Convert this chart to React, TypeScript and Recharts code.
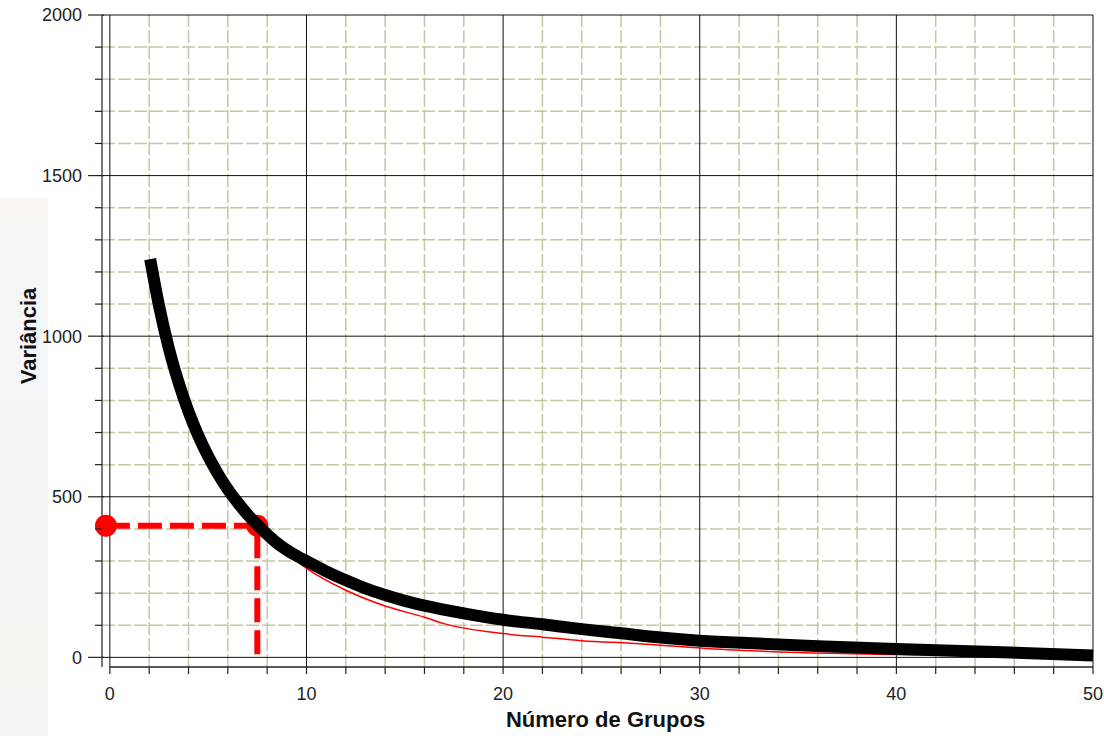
import React from "react";
import { ComposedChart, Line, XAxis, YAxis, ReferenceLine } from "recharts";

// curva de variância (leitura do gráfico)
const curveX = [2.05, 2.5, 3, 3.5, 4, 4.5, 5, 5.5, 6, 6.5, 7, 7.5, 8, 8.5, 9, 9.5, 10, 11, 12, 13, 14, 15, 16, 18, 20, 22, 24, 26, 28, 30, 33, 36, 40, 45, 50];
const curveY = [1240, 1095, 962, 855, 765, 690, 626, 571, 523, 482, 445, 413, 383, 356, 334, 316, 300, 268, 240, 215, 194, 176, 161, 137, 117, 103, 88, 75, 62, 52, 43, 35, 26, 17, 6];

// linha vermelha fina (dados originais)
const redX = [7.5, 10, 12, 14, 16, 17, 20, 22, 24, 26.5, 32, 35, 40, 45, 50];
const redY = [413, 277, 209, 160, 125, 105, 74, 63, 52, 44, 22, 15, 9, 5, 0];

// linha guia tracejada
const guideX = [-0.2, 7.5, 7.5];
const guideY = [410, 410, -8];

const xTicks = [0, 2, 4, 6, 8, 10, 12, 14, 16, 18, 20, 22, 24, 26, 28, 30, 32, 34, 36, 38, 40, 42, 44, 46, 48, 50];
const xLabels = [0, 10, 20, 30, 40, 50];
const yTicks = [0, 100, 200, 300, 400, 500, 600, 700, 800, 900, 1000, 1100, 1200, 1300, 1400, 1500, 1600, 1700, 1800, 1900, 2000];
const yLabels = [0, 500, 1000, 1500, 2000];

const toPoints = (xs: number[], ys: number[]) => xs.map((x, i) => ({ x, y: ys[i] }));
const curveData = toPoints(curveX, curveY);
const redData = toPoints(redX, redY);
const guideData = toPoints(guideX, guideY);

const FONT = "'Liberation Sans', Arial, sans-serif";
const GRID_MINOR = "#c6c6a4";

const renderXTick = (props: any) => {
  const { x, y, payload } = props;
  if (!xLabels.includes(payload.value)) return <g />;
  return (
    <text x={x} y={y} dy="0.71em" textAnchor="middle" fontSize={18} fill="#222" fontFamily={FONT}>
      {payload.value}
    </text>
  );
};

const renderYTick = (props: any) => {
  const { x, y, payload } = props;
  const ax = x + 20; // posição da linha do eixo
  const major = yLabels.includes(payload.value);
  return (
    <g>
      <line x1={major ? ax - 14 : ax - 7} x2={major ? ax + 2 : ax} y1={y} y2={y} stroke="#222" strokeWidth={1.2} />
      {major && (
        <text x={x} y={y} dy="0.36em" textAnchor="end" fontSize={18} fill="#222" fontFamily={FONT}>
          {payload.value}
        </text>
      )}
    </g>
  );
};

const guideDot = (props: any) => {
  const { cx, cy, index } = props;
  if (index > 1) return <g key={`d${index}`} />;
  return <circle key={`d${index}`} cx={cx} cy={cy} r={11} fill="#ff0000" />;
};

export default function App() {
  return (
    <div style={{ position: "absolute", left: 0, top: 0, width: 1104, height: 736, background: "#fff", overflow: "hidden" }}>
      <div
        style={{
          position: "absolute",
          left: 0,
          top: 198,
          width: 48,
          height: 538,
          background: "linear-gradient(180deg, #f9f5f1 0%, #f3f6f8 30%, #f2f5f6 60%, #f7f4ee 85%, #f4f5f3 100%)",
        }}
      />
      <ComposedChart width={1104} height={736} margin={{ top: 15, right: 11, bottom: 0, left: 0 }} style={{ position: "absolute", left: 0, top: 0 }}>
        <XAxis
          dataKey="x"
          type="number"
          domain={[-0.4, 50]}
          ticks={xTicks}
          interval={0}
          height={69}
          axisLine={false}
          tickSize={7}
          tickMargin={13}
          tickLine={{ stroke: "#222", strokeWidth: 1.2 }}
          tick={renderXTick}
          label={{
            content: (p: any) => {
              const vb = p.viewBox;
              return (
                <text x={vb.x + vb.width / 2 + 8} y={vb.y + vb.height - 9} textAnchor="middle" fontSize={22} fontWeight="bold" fill="#111" fontFamily={FONT}>
                  Número de Grupos
                </text>
              );
            },
          }}
        />
        <YAxis
          dataKey="y"
          type="number"
          domain={[-30, 2000]}
          ticks={yTicks}
          interval={0}
          width={102}
          tickSize={14}
          tickMargin={6}
          tickLine={false}
          axisLine={{ stroke: "#222", strokeWidth: 1.2 }}
          tick={renderYTick}
          label={{
            content: (p: any) => {
              const vb = p.viewBox;
              const cy = vb.y + vb.height / 2 - 5;
              return (
                <text x={28} y={cy} transform={`rotate(-90, 28, ${cy})`} dy="0.36em" textAnchor="middle" fontSize={22} fontWeight="bold" fill="#111" fontFamily={FONT}>
                  Variância
                </text>
              );
            },
          }}
        />

        {xTicks.filter((v) => !xLabels.includes(v)).map((v) => (
          <ReferenceLine key={`xm${v}`} x={v} stroke={GRID_MINOR} strokeWidth={1.5} strokeDasharray="13 3" />
        ))}
        {yTicks.filter((v) => !yLabels.includes(v)).map((v) => (
          <ReferenceLine key={`ym${v}`} y={v} stroke={GRID_MINOR} strokeWidth={1.5} strokeDasharray="13 3" />
        ))}
        {xLabels.map((v) => (
          <ReferenceLine key={`xM${v}`} x={v} stroke="#111" strokeWidth={1} />
        ))}
        {yLabels.map((v) => (
          <ReferenceLine key={`yM${v}`} y={v} stroke="#111" strokeWidth={1} />
        ))}
        <ReferenceLine segment={[{ x: 0, y: -30 }, { x: 50, y: -30 }]} stroke="#222" strokeWidth={1.5} />

        <Line data={redData} dataKey="y" type="monotone" stroke="#ff0000" strokeWidth={1.5} dot={false} isAnimationActive={false} />
        <Line data={guideData} dataKey="y" type="linear" stroke="#ff0000" strokeWidth={6} strokeDasharray="24 8" dot={guideDot} isAnimationActive={false} />
        <Line data={curveData} dataKey="y" type="monotone" stroke="#000" strokeWidth={12} dot={false} isAnimationActive={false} zIndex={1000} />
      </ComposedChart>
    </div>
  );
}
